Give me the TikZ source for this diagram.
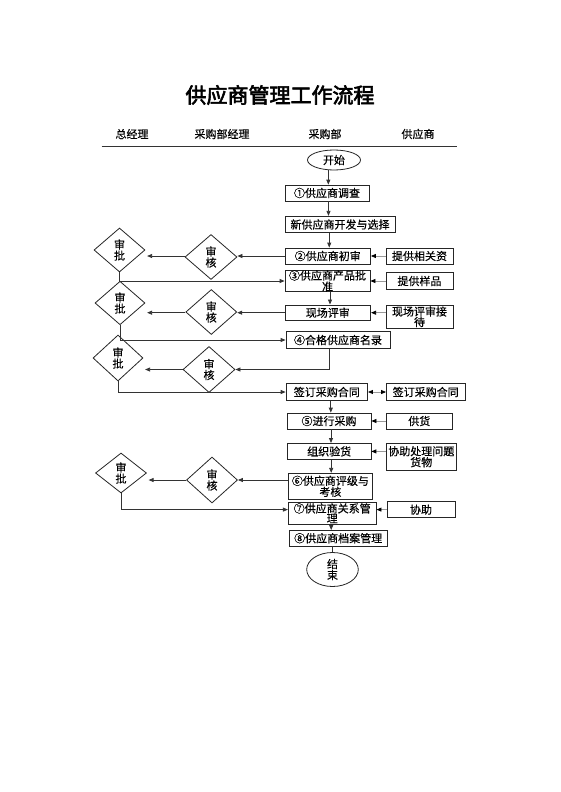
\documentclass[tikz,border=0pt]{standalone}
\usepackage{fontspec}
\newfontfamily\cjk[FakeBold=0.4]{Noto Sans CJK SC}
\newfontfamily\cjktitle[FakeBold=2.8]{Noto Sans CJK SC}
\usetikzlibrary{shapes.geometric,arrows.meta,calc}
\begin{document}
\begin{tikzpicture}[x=1pt,y=-1pt,
  txt/.style={font=\cjk\fontsize{11}{11}\selectfont, align=center, inner sep=0pt},
  box/.style={txt, draw=black!85, line width=0.8pt, rectangle},
  ell/.style={txt, draw=black!85, line width=0.8pt, ellipse},
  dia/.style={txt, draw=black!85, line width=0.8pt, diamond, minimum width=51pt, minimum height=45pt},
  arr/.style={-{Triangle[length=5pt,width=4pt]}, line width=0.8pt, draw=black!80},
  garr/.style={-{Triangle[length=5pt,width=4pt,color=black]}, line width=0.8pt, draw=black!40},
  darr/.style={{Triangle[length=5pt,width=4pt,color=black]}-{Triangle[length=5pt,width=4pt,color=black]}, line width=0.8pt, draw=black!40},
  line/.style={line width=0.8pt, draw=black!80}
]
\useasboundingbox (0,0) rectangle (560,792);
\fill[white] (0,0) rectangle (560,792);

% title and headers
\node[inner sep=0pt, font=\cjktitle\fontsize{21}{21}\selectfont] (title) at (280,95) {供应商管理工作流程};
\node[txt] (h1) at (132,134) {总经理};
\node[txt] (h2) at (222,134) {采购部经理};
\node[txt] (h3) at (325,134) {采购部};
\node[txt] (h4) at (418,134) {供应商};
\draw[line] (101.7,146.7) -- (456.7,146.7);

% main column
\node[ell, minimum width=53pt, minimum height=20pt] (start) at (334,160) {开始};
\node[box, minimum width=84pt, minimum height=16pt] (s1) at (327,193) {①供应商调查};
\node[box, minimum width=110pt, minimum height=16.5pt] (s1b) at (340,224.5) {新供应商开发与选择};
\node[box, minimum width=85.5pt, minimum height=16pt] (s2) at (327.75,256) {②供应商初审};
\node[box, minimum width=67pt, minimum height=16pt] (r2) at (419.5,256) {提供相关资};
\node[box, minimum width=85pt, minimum height=21pt, font=\cjk\fontsize{11}{9.5}\selectfont] (s3) at (327.5,281) {③供应商产品批\\准};
\node[box, minimum width=67pt, minimum height=16.6pt] (r3) at (419.5,281) {提供样品};
\node[box, minimum width=85.7pt, minimum height=15.5pt] (s3b) at (327.8,312.7) {现场评审};
\node[box, minimum width=67pt, minimum height=23.3pt, font=\cjk\fontsize{11}{10.5}\selectfont] (r3b) at (419.5,316.7) {现场评审接\\待};
\node[box, minimum width=104pt, minimum height=16.3pt] (s4) at (338,340) {④合格供应商名录};
\node[box, minimum width=81.5pt, minimum height=16.5pt] (qd) at (326.8,392) {签订采购合同};
\node[box, minimum width=78.5pt, minimum height=16.5pt] (rq) at (425.7,392) {签订采购合同};
\node[box, minimum width=84pt, minimum height=16pt] (s5) at (329,421) {⑤进行采购};
\node[box, minimum width=66.7pt, minimum height=16pt] (r5) at (419.3,421) {供货};
\node[box, minimum width=83.5pt, minimum height=16pt] (ys) at (329.2,451.4) {组织验货};
\node[box, minimum width=70.7pt, minimum height=26.5pt] (r6) at (421.3,456.7) {协助处理问题\\货物};
\node[box, minimum width=84.2pt, minimum height=26pt] (s6) at (330.4,486.3) {⑥供应商评级与\\考核};
\node[box, minimum width=87.7pt, minimum height=22.3pt, font=\cjk\fontsize{11}{10}\selectfont] (s7) at (332.2,513.2) {⑦供应商关系管\\理};
\node[box, minimum width=68pt, minimum height=15.8pt] (r7) at (421,509.6) {协助};
\node[box, minimum width=97.7pt, minimum height=15.5pt] (s8) at (338.2,538.2) {⑧供应商档案管理};
\node[ell, minimum width=51.6pt, minimum height=34pt] (end) at (332.5,569.5) {结\\束};

% diamonds
\node[dia, minimum width=51pt, minimum height=44pt] (sp1) at (119.5,250) {审\\批};
\node[dia, minimum width=52pt, minimum height=45pt] (dk1) at (211,257) {审\\核};
\node[dia, minimum width=50pt, minimum height=43.5pt] (sp2) at (120,303) {审\\批};
\node[dia, minimum width=51pt, minimum height=45pt] (dk2) at (211.3,312) {审\\核};
\node[dia, minimum width=50pt, minimum height=46pt] (sp3) at (118,358) {审\\批};
\node[dia, minimum width=52pt, minimum height=46pt] (dk3) at (209,369.5) {审\\核};
\node[dia, minimum width=51pt, minimum height=40pt] (sp4) at (121,473) {审\\批};
\node[dia, minimum width=51pt, minimum height=46pt] (dk4) at (212,480) {审\\核};

% vertical flow
\draw[arr] ([xshift=1.3pt]s1.north |- start.south) -- ([xshift=1.3pt]s1.north);
\draw[arr] ([xshift=1.5pt]s1.south) -- ([xshift=1.5pt]s1.south |- s1b.north);
\draw[arr] ([xshift=1.5pt]s2.north |- s1b.south) -- ([xshift=1.5pt]s2.north);
\draw[arr] ([xshift=2.5pt]s3.south) -- ([xshift=2.5pt]s3.south |- s3b.north);
\draw[arr] ([xshift=4pt]qd.south) -- ([xshift=4pt]qd.south |- s5.north);
\draw[arr] ([xshift=2pt]s5.south) -- ([xshift=2pt]s5.south |- ys.north);
\draw[arr] ([xshift=2pt]ys.south) -- ([xshift=2pt]ys.south |- s6.north);
\draw[arr] ([xshift=-1pt]s7.south) -- ([xshift=-1pt]s7.south |- s8.north);
\draw[line] (end.north |- s8.south) -- (end.north);

% supplier inputs
\draw[garr] (r2.west) -- (r2.west -| s2.east);
\draw[garr] (r3.west) -- (r3.west -| s3.east);
\draw[garr] (r3b.west |- s3b.east) -- (s3b.east);
\draw[darr] (rq.west) -- (qd.east);
\draw[garr] (r5.west) -- (r5.west -| s5.east);
\draw[garr] (r6.west |- ys.east) -- (ys.east);
\draw[garr] (r7.west) -- (r7.west -| s7.east);

% review / approval branches
\draw[arr] (s2.west) -- (s2.west -| dk1.east);
\draw[arr] (dk1.west |- s2.west) -- ($(sp1.east |- s2.west)+(1.7,0)$);
\draw[arr] (sp1.south) |- (s3.west);

\draw[arr] (s3b.west) -- (s3b.west -| dk2.east);
\draw[arr] (dk2.west |- s3b.west) -- ($(sp2.east |- s3b.west)+(1.7,0)$);
\draw[arr] (sp2.south) |- (s4.west);

\draw[arr] ([xshift=-8.7pt]s4.south) |- (dk3.east);
\draw[arr] (dk3.west) -- ($(sp3.east |- dk3.west)+(1.7,0)$);
\draw[arr] (sp3.south) |- (qd.west);

\draw[arr] (s6.west |- dk4.east) -- (dk4.east);
\draw[arr] (dk4.west) -- ($(sp4.east |- dk4.west)+(1.7,0)$);
\coordinate (s7in) at (s7.west |- r7.west);
\draw[arr] (sp4.south) |- (s7in);
\end{tikzpicture}
\end{document}
